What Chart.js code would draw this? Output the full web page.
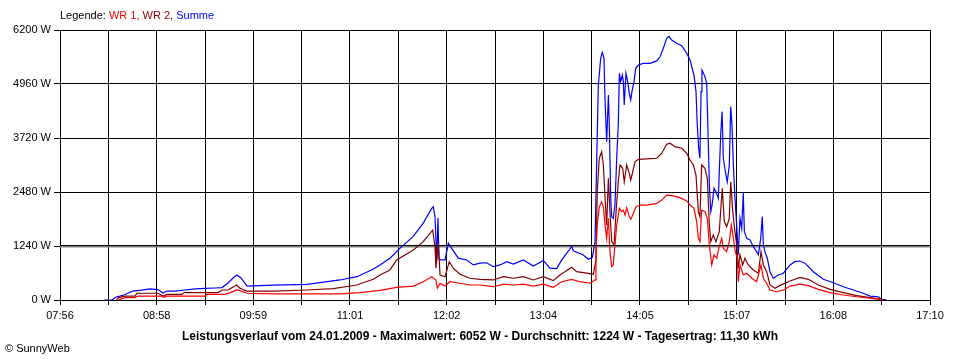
<!DOCTYPE html>
<html>
<head>
<meta charset="utf-8">
<script src="https://cdn.jsdelivr.net/npm/chart.js@4.4.1/dist/chart.umd.min.js"></script>
<style>
    body { margin: 0; background: #fff; }
    #wrap {
        position: relative;
        width: 960px;
        height: 360px;
        font-family: "Liberation Sans", Arial, sans-serif;
        font-size: 11px;
        color: #000;
    }
    #chart { position: absolute; left: 0; top: 0; }
    .legend { position: absolute; left: 60px; top: 9px; white-space: nowrap; }
    .caption { position: absolute; left: 0; width: 960px; top: 329px; text-align: center; font-weight: bold; font-size: 12px; white-space: nowrap; }
    .copy { position: absolute; left: 5px; top: 342px; }
</style>
</head>
<body>
<div id="wrap">
    <canvas id="chart" width="960" height="360"></canvas>
    <div class="legend">Legende: <span style="color:#FF0000">WR 1,</span> <span style="color:#800000">WR 2,</span> <span style="color:#0000FF">Summe</span></div>
    <div class="caption">Leistungsverlauf vom 24.01.2009 - Maximalwert: 6052 W - Durchschnitt: 1224 W - Tagesertrag: 11,30 kWh</div>
    <div class="copy">&copy; SunnyWeb</div>
</div>
<script>
// x tick labels (every second grid line carries one)
const xTickLabels = ["07:56", "08:58", "09:59", "11:01", "12:02", "13:04", "14:05", "15:07", "16:08", "17:10"];
const yTickStep = 1240;
const yMax = 6200;
const avgWatt = 1224;

// readings, time as minutes since midnight, power in W
const summeMin = [
    504.0, 509.1, 511.7, 514.2, 517.4, 522.5, 526.9, 533.3, 538.4, 541.6,
    544.1, 549.2, 555.6, 562.0, 568.3, 574.7, 579.2, 583.0, 586.2, 588.7,
    591.3, 595.1, 611.6, 633.3, 654.3, 665.1, 675.3, 679.8, 686.1, 692.5,
    700.8, 707.2, 712.7, 713.7, 714.8, 715.9, 716.7, 717.3, 718.0, 721.2,
    723.3, 725.4, 729.6, 735.0, 739.2, 743.5, 747.7, 751.9, 756.2, 760.5,
    764.7, 771.0, 777.4, 783.8, 788.0, 792.3, 795.5, 801.8, 802.9, 809.2,
    812.4, 815.0, 816.7, 817.8, 818.8, 820.3, 821.3, 822.4, 823.1, 824.1,
    825.2, 825.8, 826.7, 827.3, 828.3, 829.4, 830.5, 831.5, 832.2, 833.0,
    834.1, 834.7, 835.3, 836.4, 837.5, 838.5, 839.4, 840.2, 841.5, 842.6,
    844.3, 847.4, 851.7, 856.0, 858.1, 860.2, 862.3, 863.8, 865.5, 868.7,
    871.9, 875.1, 877.2, 879.7, 881.0, 881.8, 882.7, 883.5, 884.2, 884.8,
    886.7, 887.8, 888.8, 889.5, 890.4, 891.2, 892.5, 893.7, 895.2, 896.7,
    897.6, 898.4, 899.7, 900.9, 902.2, 903.1, 903.9, 904.8, 905.8, 906.9,
    907.9, 909.0, 910.1, 911.1, 911.8, 913.3, 915.4, 917.5, 919.6, 920.7,
    922.2, 923.2, 923.9, 924.9, 926.4, 928.1, 930.2, 933.4, 936.6, 940.9,
    944.0, 947.2, 950.4, 955.7, 962.1, 968.4, 974.8, 981.2, 987.5, 991.8,
    997.1, 999.2, 1002.4
];
const summeW = [
    0, 0, 70, 90, 125, 205, 220, 255, 240, 160,
    205, 205, 230, 255, 265, 275, 285, 390, 505, 575,
    505, 320, 340, 360, 460, 535, 705, 805, 960, 1185,
    1455, 1760, 2105, 2140, 1915, 920, 1885, 965, 920, 920,
    1300, 1185, 960, 920, 805, 845, 855, 765, 805, 880,
    825, 920, 780, 905, 730, 720, 920, 1225, 1130, 1035,
    935, 980, 1340, 3260, 4935, 5550, 5690, 5550, 4555, 3635,
    4705, 4020, 2340, 1915, 1875, 2180, 3255, 4020, 5205, 5015,
    5165, 5015, 4480, 5205, 5015, 4745, 4595, 4785, 5015, 5320,
    5395, 5435, 5435, 5490, 5585, 5780, 6010, 6052, 5970, 5895,
    5840, 5665, 5510, 5165, 4785, 4020, 3485, 3255, 4785, 5280,
    5130, 4975, 3635, 2640, 2030, 2180, 2565, 2485, 2335, 3790,
    4325, 3255, 2945, 2715, 3100, 4440, 4020, 3100, 2335, 1720,
    1035, 1875, 1645, 2450, 1570, 1415, 1380, 1225, 1110, 1035,
    1415, 1915, 1265, 1110, 960, 650, 500, 575, 615, 805,
    880, 895, 845, 650, 475, 395, 305, 230, 155, 90,
    75, 15, 0
];

const wr2Min = [
    512.1, 513.1, 517.4, 523.8, 525.0, 538.4, 541.8, 544.1, 553.7, 555.0,
    576.6, 579.2, 583.0, 588.5, 590.6, 594.9, 611.8, 633.1, 650.0, 664.9,
    675.5, 679.8, 686.1, 690.4, 701.0, 707.3, 713.3, 714.8, 715.4, 716.9,
    718.0, 721.2, 723.9, 726.4, 730.7, 737.1, 743.5, 751.9, 758.3, 764.7,
    771.0, 777.4, 783.8, 790.1, 794.4, 801.8, 805.0, 811.4, 815.6, 817.3,
    818.1, 819.4, 820.9, 822.0, 823.1, 824.1, 825.2, 826.2, 827.3, 828.8,
    830.1, 831.5, 832.6, 834.3, 835.3, 836.9, 838.5, 839.4, 840.7, 842.2,
    844.3, 849.6, 856.0, 859.2, 862.3, 864.4, 867.6, 871.9, 875.1, 877.2,
    879.3, 881.0, 882.5, 883.5, 884.6, 886.7, 888.2, 889.5, 890.4, 892.0,
    893.7, 895.8, 897.7, 899.0, 900.5, 902.2, 903.1, 904.4, 905.8, 906.9,
    907.9, 909.0, 910.7, 912.2, 914.3, 917.5, 920.7, 922.4, 923.9, 926.0,
    928.1, 931.3, 934.5, 940.9, 947.2, 952.5, 958.9, 966.3, 974.8, 983.3,
    991.8, 998.2, 1000.3
];
const wr2W = [
    0, 55, 90, 90, 155, 155, 90, 130, 130, 170,
    170, 230, 230, 345, 270, 205, 205, 230, 260, 345,
    475, 575, 690, 920, 1150, 1340, 1605, 1225, 730, 1300,
    575, 535, 880, 730, 590, 500, 475, 460, 535, 500,
    535, 460, 535, 445, 575, 750, 650, 615, 590, 920,
    2485, 3255, 3405, 3100, 2335, 1720, 2795, 2030, 1340, 1265,
    2030, 2715, 3100, 3025, 2715, 3100, 2910, 2755, 2945, 3175,
    3230, 3240, 3255, 3370, 3575, 3600, 3520, 3485, 3370, 3215,
    3100, 2870, 2030, 1915, 3100, 3025, 2795, 1720, 1340, 1495,
    1340, 1570, 2565, 1800, 1685, 1875, 2715, 2030, 1570, 1265,
    730, 1035, 805, 960, 805, 690, 615, 1110, 805, 650,
    345, 270, 335, 435, 520, 475, 345, 245, 170, 100,
    55, 25, 0
];

const wr1Min = [
    513.1, 514.2, 517.4, 523.8, 525.7, 541.0, 541.8, 544.1, 568.3, 569.6,
    581.1, 584.3, 588.5, 590.6, 594.9, 611.6, 654.3, 667.0, 679.8, 690.4,
    701.0, 707.3, 712.7, 715.4, 716.3, 718.0, 721.2, 724.3, 730.7, 737.1,
    743.5, 751.9, 758.3, 764.7, 771.0, 777.4, 783.8, 790.1, 795.5, 801.8,
    807.1, 813.5, 816.7, 817.3, 818.1, 819.4, 820.9, 822.0, 823.1, 824.1,
    825.2, 826.2, 827.3, 828.3, 829.4, 830.5, 832.2, 833.7, 834.7, 835.8,
    836.9, 838.5, 839.6, 841.1, 842.8, 845.3, 849.6, 856.0, 859.2, 862.3,
    865.5, 870.8, 875.1, 877.2, 879.7, 881.4, 882.5, 883.5, 884.6, 886.7,
    888.2, 889.5, 891.0, 892.5, 894.2, 895.8, 897.4, 898.4, 900.5, 902.2,
    903.5, 904.8, 906.0, 907.3, 907.9, 909.0, 911.1, 913.3, 916.5, 919.6,
    922.4, 923.9, 926.0, 928.1, 932.4, 936.6, 940.9, 947.2, 952.5, 958.9,
    966.3, 974.8, 983.3, 991.8, 998.2, 999.2
];
const wr1W = [
    0, 15, 55, 55, 90, 90, 60, 90, 90, 130,
    130, 170, 230, 215, 155, 140, 140, 170, 220, 290,
    320, 420, 535, 460, 270, 385, 320, 420, 385, 345,
    345, 305, 365, 345, 365, 320, 365, 290, 420, 475,
    420, 385, 460, 1110, 1720, 2140, 2255, 2140, 1720, 1415,
    1875, 1110, 765, 805, 1265, 1720, 2105, 2030, 2065, 1950,
    2120, 1915, 1855, 1990, 2140, 2180, 2180, 2220, 2295, 2410,
    2395, 2350, 2275, 2180, 2105, 1800, 1415, 1340, 2065, 2030,
    1875, 1265, 805, 1035, 960, 1225, 1415, 1185, 1110, 1340,
    1720, 1415, 1110, 960, 420, 805, 575, 615, 500, 420,
    805, 500, 385, 230, 190, 230, 320, 365, 330, 245,
    170, 115, 75, 40, 15, 0
];

const toMinutes = s => { const [h, m] = s.split(":").map(Number); return h * 60 + m; };
const X_MIN = toMinutes(xTickLabels[0]);
const X_MAX = toMinutes(xTickLabels[xTickLabels.length - 1]);
const GRID_STEPS = (xTickLabels.length - 1) * 2;

const zip = (xs, ys) => xs.map((x, i) => ({ x, y: ys[i] }));

Chart.defaults.font.family = "'Liberation Sans', Arial, sans-serif";
Chart.defaults.font.size = 11;
Chart.defaults.color = "#000";

const line = (data, color, width = 1.2) => ({
    data,
    borderColor: color,
    backgroundColor: color,
    borderWidth: width,
    pointRadius: 0,
    tension: 0,
    fill: false
});

// the average line sits just under the 1240 W grid line, keep the grid line visible on top
const gridOnTop = {
    id: "gridOnTop",
    afterDatasetsDraw(chart) {
        const { ctx, chartArea, scales } = chart;
        const y = Math.round(scales.y.getPixelForValue(yTickStep)) + 0.5;
        ctx.save();
        ctx.strokeStyle = "#000";
        ctx.lineWidth = 1;
        ctx.beginPath();
        ctx.moveTo(chartArea.left, y - 1);
        ctx.lineTo(chartArea.right, y - 1);
        ctx.stroke();
        ctx.restore();
    }
};

new Chart(document.getElementById("chart"), {
    type: "line",
    data: {
        datasets: [
            line(zip(wr1Min, wr1W), "#FF0000"),
            line(zip(wr2Min, wr2W), "#800000"),
            line(zip(summeMin, summeW), "#0000FF"),
            line([{ x: X_MIN, y: avgWatt }, { x: X_MAX, y: avgWatt }], "#808080", 1.5)
        ]
    },
    plugins: [gridOnTop],
    options: {
        responsive: false,
        animation: false,
        events: [],
        layout: { padding: { top: 30, right: 30, left: 0, bottom: 0 } },
        plugins: { legend: { display: false }, tooltip: { enabled: false } },
        scales: {
            x: {
                type: "linear",
                min: X_MIN,
                max: X_MAX,
                afterBuildTicks: scale => {
                    scale.ticks = Array.from({ length: GRID_STEPS + 1 }, (_, i) => ({
                        value: X_MIN + i * (X_MAX - X_MIN) / GRID_STEPS
                    }));
                },
                afterFit: scale => { scale.height = 60; },
                ticks: {
                    autoSkip: false,
                    maxRotation: 0,
                    padding: 4,
                    callback: (v, i) => (i % 2 === 0 ? xTickLabels[i / 2] : "")
                },
                grid: { color: "#000", lineWidth: 1, tickLength: 5, tickColor: "#000" },
                border: { color: "#000", width: 1 }
            },
            y: {
                min: 0,
                max: yMax,
                afterFit: scale => { scale.width = 60; },
                ticks: {
                    stepSize: yTickStep,
                    padding: 3,
                    callback: v => v + " W"
                },
                grid: { color: "#000", lineWidth: 1, tickLength: 6, tickColor: "#000" },
                border: { color: "#000", width: 1 }
            }
        }
    }
});
</script>
</body>
</html>
